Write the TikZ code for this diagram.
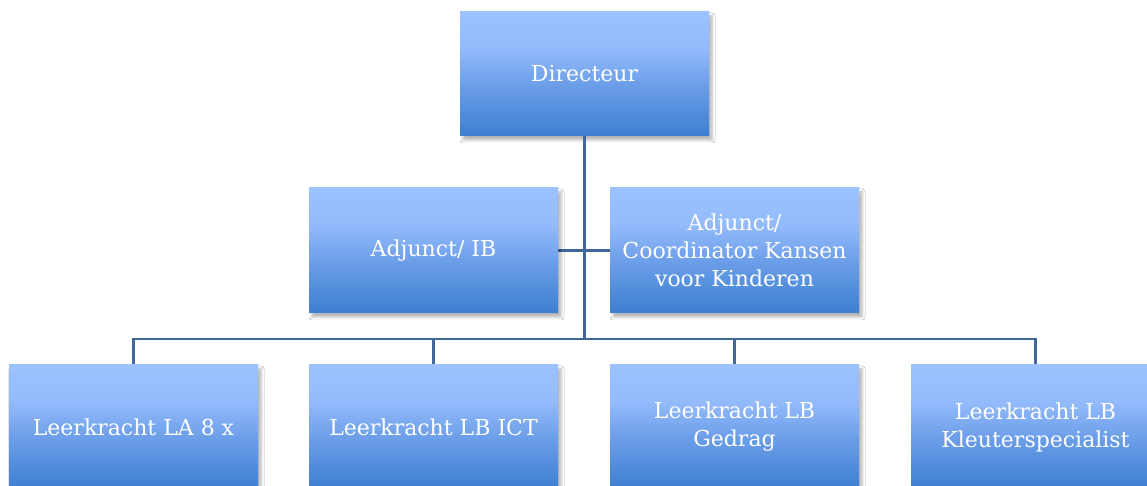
\documentclass[tikz,border=0pt]{standalone}
\usepackage{fontspec}
\setmainfont{DejaVu Serif}
\usetikzlibrary{shadows.blur}
\definecolor{boxtop}{HTML}{9CC3FF}
\definecolor{boxmidA}{HTML}{93BAFB}
\definecolor{boxmidB}{HTML}{6A9DE8}
\definecolor{boxbot}{HTML}{3D7FD0}
\definecolor{linecol}{HTML}{41669A}
\pgfdeclareverticalshading{boxshade}{100bp}{color(0bp)=(boxbot); color(25bp)=(boxbot); color(45bp)=(boxmidB); color(60bp)=(boxmidA); color(75bp)=(boxtop); color(100bp)=(boxtop)}
\tikzset{
  orgbox/.style={rectangle, shading=boxshade, minimum width=249pt, minimum height=124pt,
    text=white, align=center, inner sep=4pt,
    font=\fontsize{22}{28}\selectfont,
    blur shadow={shadow xshift=3pt, shadow yshift=-4pt, shadow blur radius=3pt, shadow opacity=30}},
  conn/.style={draw=linecol, line width=2.5pt}
}
\begin{document}
\begin{tikzpicture}[x=1pt,y=1pt]
\useasboundingbox (0,0) rectangle (1147,486);
\clip (0,0) rectangle (1147,486);
\fill[white] (0,0) rectangle (1147,486);
\coordinate (bus) at (584.5,147);
\draw[conn] (433.5,235.5) -- (734.5,235.5);
\draw[conn] (bus) -| (133.5,110);
\draw[conn] (bus) -| (433.5,110);
\draw[conn] (bus) -| (734.5,110);
\draw[conn] (bus) -| (1035.5,110);
\node[orgbox] (dir) at (584.5,412) {Directeur};
\node[orgbox, minimum height=125pt] (ib) at (433.5,235.5) {Adjunct/ IB};
\node[orgbox, minimum height=125pt] (kvk) at (734.5,235.5) {Adjunct/\\Coordinator Kansen\\voor Kinderen};
\node[orgbox] (b1) at (133.5,59) {Leerkracht LA 8 x};
\node[orgbox] (b2) at (433.5,59) {Leerkracht LB ICT};
\node[orgbox] (b3) at (734.5,59) {Leerkracht LB\\Gedrag};
\node[orgbox] (b4) at (1035.5,59) {Leerkracht LB\\Kleuterspecialist};
\draw[conn] (dir.south) -- (bus);
\end{tikzpicture}
\end{document}
